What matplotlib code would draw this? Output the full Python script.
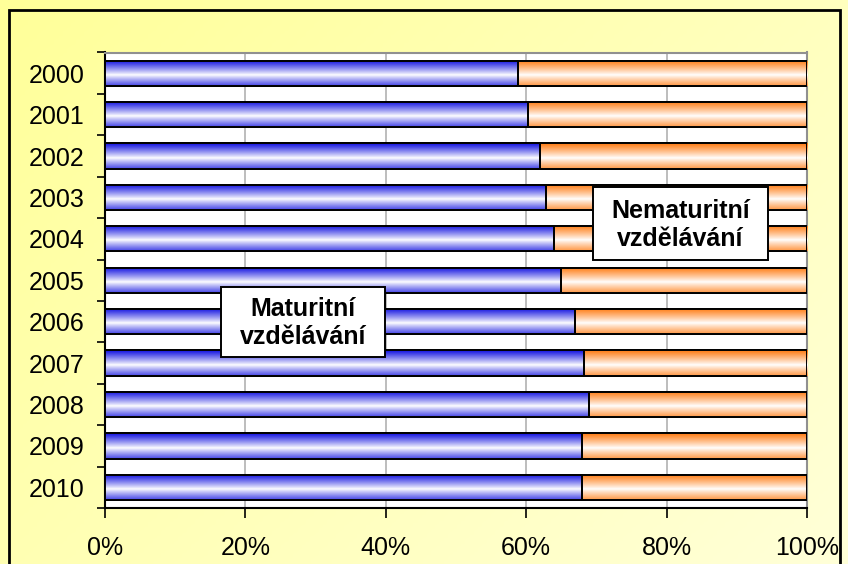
import numpy as np
import matplotlib.pyplot as plt
from matplotlib.colors import LinearSegmentedColormap
from matplotlib.patches import Rectangle

# data
years = ['2000', '2001', '2002', '2003', '2004', '2005', '2006', '2007', '2008', '2009', '2010']
maturitni = [58.8, 60.3, 61.9, 62.8, 63.9, 65.0, 67.0, 68.2, 69.0, 68.0, 68.0]
nematuritni = [100 - v for v in maturitni]
xticks = [0, 20, 40, 60, 80, 100]

plt.rcParams['font.family'] = ['Liberation Sans', 'DejaVu Sans']

fig = plt.figure(figsize=(8.48, 5.64), dpi=100)

# yellow gradient background
bg = fig.add_axes([0, 0, 1, 1], zorder=-10)
gx, gy = np.meshgrid(np.linspace(0, 1, 200), np.linspace(0, 1, 200))
g = (gx * 0.6 + gy * 0.4)
bg_cmap = LinearSegmentedColormap.from_list('bg', ['#FFFF99', '#FFFFD8'])
bg.imshow(g, cmap=bg_cmap, aspect='auto', extent=(0, 1, 0, 1), origin='upper')
bg.set_axis_off()
fig.patches.append(Rectangle((9 / 848, -0.05), 831 / 848, 1.05 - 10 / 564, transform=fig.transFigure,
                             fill=False, edgecolor='black', linewidth=2, zorder=5))

ax = fig.add_axes([105 / 848, 1 - 508 / 564, 702 / 848, 455.5 / 564])
ax.set_facecolor('white')

ypos = np.arange(len(years))
bh = 0.61
b1 = ax.barh(ypos, maturitni, height=bh, color='#3333CC', edgecolor='black', linewidth=1.2, zorder=3)
b2 = ax.barh(ypos, nematuritni, left=maturitni, height=bh, color='#FF9933',
             edgecolor='black', linewidth=1.2, zorder=3)

# gradient fill clipped to each bar
prof = np.abs(np.linspace(-1, 0.75, 64)) ** 0.9
prof = prof.reshape(-1, 1)
cm_blue = LinearSegmentedColormap.from_list('bl', ['white', '#1010E0'])
cm_orange = LinearSegmentedColormap.from_list('or', ['white', '#FF7A10'])
for bars, cm in ((b1, cm_blue), (b2, cm_orange)):
    for p in bars:
        x0, y0 = p.get_x(), p.get_y()
        w, h = p.get_width(), p.get_height()
        im = ax.imshow(prof, cmap=cm, vmin=0, vmax=1, aspect='auto',
                       extent=(x0, x0 + w, y0 + h, y0), zorder=3.5, interpolation='bilinear')
        im.set_clip_path(p)
    for p in bars:
        r = Rectangle((p.get_x(), p.get_y()), p.get_width(), p.get_height(),
                      fill=False, edgecolor='black', linewidth=1.4, zorder=4)
        ax.add_patch(r)

ax.set_xlim(0, 100)
ax.set_ylim(len(years) - 0.5, -0.5)
ax.set_xticks(xticks)
ax.set_xticklabels([f'{v}%' for v in xticks], fontsize=18)
ax.set_yticks(ypos)
ax.set_yticklabels(years, fontsize=18)
ax.set_yticks(np.arange(-0.5, len(years), 1), minor=True)
ax.tick_params(axis='y', which='major', length=0, pad=15)
ax.tick_params(axis='y', which='minor', length=6, width=1.2, direction='out')
ax.tick_params(axis='x', length=7, width=1.2, direction='out', pad=13)
ax.grid(axis='x', color='#B8B8B8', linewidth=1.3, zorder=0)
ax.set_axisbelow(True)
for s in ['top', 'right']:
    ax.spines[s].set_color('#909090')
    ax.spines[s].set_linewidth(1.5)
ax.spines['left'].set_linewidth(1.5)
ax.spines['bottom'].set_linewidth(1.5)

# label boxes
for cx, cy, bw, bhh, txt in ((28.2, 6.0, 23.3, 1.69, 'Maturitní\nvzdělávání'),
                             (82.0, 3.64, 25.0, 1.76, 'Nematuritní\nvzdělávání')):
    ax.add_patch(Rectangle((cx - bw / 2, cy - bhh / 2), bw, bhh, facecolor='white',
                           edgecolor='black', linewidth=1.4, zorder=9))
    ax.text(cx, cy + 0.03, txt, ha='center', va='center', fontsize=18,
            fontweight='bold', linespacing=1.2, zorder=10)

fig.savefig('out.png', dpi=100)
